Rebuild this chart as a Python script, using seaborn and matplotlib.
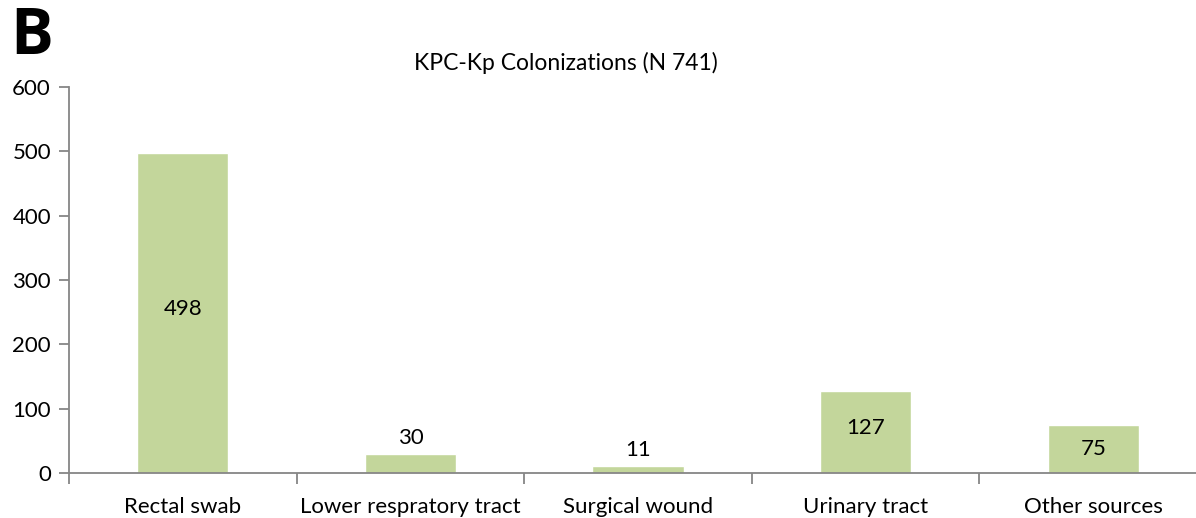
import matplotlib
matplotlib.use("Agg")
import matplotlib.pyplot as plt
import pandas as pd
import seaborn as sns

# data
categories = ["Rectal swab", "Lower respratory tract", "Surgical wound",
              "Urinary tract", "Other sources"]
counts = [498, 30, 11, 127, 75]
yticks = [0, 100, 200, 300, 400, 500, 600]

df = pd.DataFrame({"source": categories, "count": counts})

sns.set_theme(style="white")
plt.rcParams["font.family"] = ["Lato", "DejaVu Sans"]
plt.rcParams["text.color"] = "black"

GREEN = "#C3D69B"
GREY = "#868686"

fig = plt.figure(figsize=(11.96, 5.18), dpi=100)
ax = fig.add_axes([69 / 1196, 1 - 473 / 518, (1207 - 69) / 1196, (473 - 87) / 518])

sns.barplot(data=df, x="source", y="count", color=GREEN, width=0.40,
            saturation=1, ax=ax)

ax.set_xlim(-0.5, len(categories) - 0.5)
ax.set_ylim(0, 600)
ax.set_yticks(yticks)
ax.set_xlabel("")
ax.set_ylabel("")

# spines / ticks in Excel style
for s in ["top", "right"]:
    ax.spines[s].set_visible(False)
for s in ["left", "bottom"]:
    ax.spines[s].set_color(GREY)
    ax.spines[s].set_linewidth(1.3)

ax.tick_params(axis="y", which="major", left=True, length=7, width=1.3,
               color=GREY, labelsize=16, labelcolor="black", pad=6)
ax.tick_params(axis="x", which="major", bottom=False, labelsize=16,
               labelcolor="black", pad=11)
ax.set_xticks([i + 0.5 for i in range(-1, len(categories))], minor=True)
ax.tick_params(axis="x", which="minor", bottom=True, length=8, width=1.3,
               color=GREY)

# value labels
for i, v in enumerate(counts):
    if v < 60:
        ax.text(i, v + 25, str(v), ha="center", va="center", fontsize=16)
    else:
        ax.text(i, v / 2 + 6 if v > 100 else v / 2, str(v), ha="center",
                va="center", fontsize=16)

fig.text(566 / 1196, 1 - 63 / 518, "KPC-Kp Colonizations (N 741)",
         ha="center", va="center", fontsize=16.5)
fig.text(10 / 1196, 1 - 38 / 518, "B", ha="left", va="center", color="black",
         fontsize=46, fontweight="bold", family=["Open Sans", "DejaVu Sans"])

fig.savefig("out.png", dpi=100)
